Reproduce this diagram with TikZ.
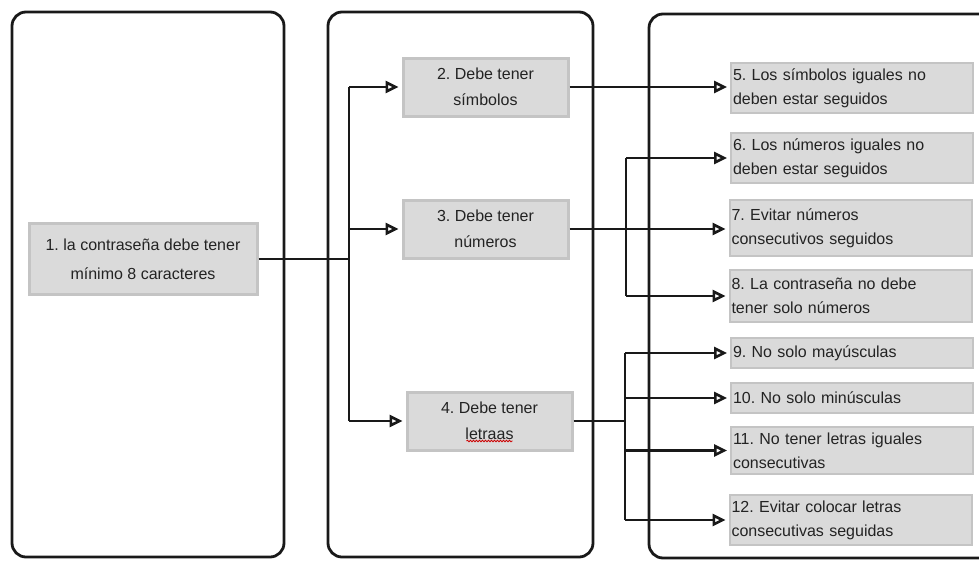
\documentclass[tikz,border=0pt]{standalone}
\usepackage{fontspec}
\setmainfont{Liberation Sans}
\usepackage{tikz}
\usetikzlibrary{arrows.meta, calc, positioning, decorations.pathmorphing}
\definecolor{boxfill}{RGB}{218, 218, 218}
\definecolor{boxedge}{RGB}{196, 196, 196}
\definecolor{inkgray}{RGB}{35, 35, 35}
\frenchspacing
\begin{document}
\begin{tikzpicture}[x=1pt, y=-1pt,
		frame/.style={draw=black!90, line width=2.8pt, rounded corners=14pt},
		link/.style={draw=black!90, line width=2.6pt},
		arrow/.style={link, -{Triangle[open, length=13pt, width=12pt]}, shorten >=3pt},
		midbox/.style={fill=boxfill, draw=boxedge, line width=3pt, inner sep=0pt,
			minimum width=165pt, minimum height=58pt, align=center, text=inkgray,
			font=\fontsize{16}{26}\selectfont},
		rulebox/.style={fill=boxfill, draw=boxedge, line width=2pt, inner sep=2pt,
			minimum width=242pt, text width=238pt, align=left, text=inkgray,
			font=\fontsize{16}{24}\selectfont}]
	
	\clip (0,0) rectangle (979,562);
	
	%--- Columns ---
	\draw[frame] (12,12) rectangle (284,557);
	\draw[frame] (328,12) rectangle (593,557);
	\draw[frame] (649,14) rectangle (995,558);
	
	%--- Column 1: main rule ---
	\node[midbox, minimum width=228pt, minimum height=71pt, font=\fontsize{16}{29}\selectfont]
		(b1) at (143,259) {1. la contraseña  debe tener\\mínimo 8 caracteres};
	
	%--- Column 2: kinds of characters ---
	\node[midbox] (b2) at (485.5,87) {2. Debe tener\\símbolos};
	\node[midbox] (b3) at (485.5,229) {3. Debe tener\\números};
	\node[midbox] (b4) at (489.5,421) {4. Debe tener\\letraas};
	\draw[red!80!black, line width=0.8pt, decorate,
		decoration={snake, amplitude=0.8pt, segment length=3pt}]
		([xshift=-23pt, yshift=-20pt]b4.center) -- ([xshift=23pt, yshift=-20pt]b4.center);
	
	%--- Column 3: detailed rules ---
	\node[rulebox, minimum height=50pt] (b5) at (852,88) {5. Los símbolos  iguales no\\deben estar seguidos};
	\node[rulebox, minimum height=50pt] (b6) at (852,158) {6. Los números  iguales no\\deben estar seguidos};
	\node[rulebox, minimum height=56pt] (b7) at (850.5,228) {7. Evitar números\\consecutivos seguidos};
	\node[rulebox, minimum height=52pt] (b8) at (850.5,296) {8. La contraseña  no debe\\tener solo números};
	\node[rulebox, minimum height=30pt] (b9) at (852,353) {9. No solo mayúsculas};
	\node[rulebox, minimum height=30pt] (b10) at (852,398) {10. No solo minúsculas};
	\node[rulebox, minimum height=47pt] (b11) at (852,450.5) {11. No tener letras  iguales\\consecutivas};
	\node[rulebox, minimum height=50pt] (b12) at (850.5,520) {12. Evitar colocar letras\\consecutivas seguidas};
	
	%--- Connectors ---
	\coordinate (tA) at (349,0);
	\coordinate (tB) at (626,0);
	\coordinate (tC) at (625,0);
	
	\draw[link] (b1.east) -- (b1.east -| tA);
	\draw[link] (b2.west -| tA) -- (b4.west -| tA);
	\foreach \b in {b2,b3,b4}
		\draw[arrow] (\b.west -| tA) -- (\b.west);
	
	\draw[arrow] (b2.east) -- (b2.east -| b5.west);
	\draw[arrow] (b3.east) -- (b3.east -| b7.west);
	\draw[link] (b6.west -| tB) -- (b8.west -| tB);
	\foreach \b in {b6,b8}
		\draw[arrow] (\b.west -| tB) -- (\b.west);
	
	\draw[link] (b4.east) -- (b4.east -| tC);
	\draw[link] (b9.west -| tC) -- (b12.west -| tC);
	\foreach \b in {b9,b10,b11,b12}
		\draw[arrow] (\b.west -| tC) -- (\b.west);
\end{tikzpicture}
\end{document}
